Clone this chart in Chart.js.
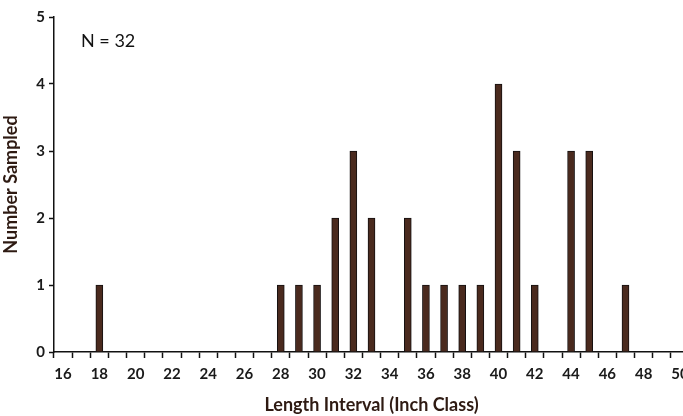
<!DOCTYPE html>
<html lang="en">
<head>
    <meta charset="UTF-8">
    <title>Length Frequency</title>
    <style>
        html, body {
            margin: 0;
            padding: 0;
            background: #fff;
            overflow: hidden;
        }
        .chart-container {
            position: relative;
            width: 700px;
            height: 416px;
        }
    </style>
</head>
<body>
    <div class="chart-container">
        <canvas id="lengthChart"></canvas>
    </div>

    <script src="https://cdn.jsdelivr.net/npm/chart.js"></script>
    <script>
        // inch classes 16..50
        const lengthClasses = [16, 17, 18, 19, 20, 21, 22, 23, 24, 25, 26, 27, 28, 29, 30, 31, 32, 33,
            34, 35, 36, 37, 38, 39, 40, 41, 42, 43, 44, 45, 46, 47, 48, 49, 50];
        const numberSampled = [0, 0, 1, 0, 0, 0, 0, 0, 0, 0, 0, 0, 1, 1, 1, 2, 3, 2,
            0, 2, 1, 1, 1, 1, 4, 3, 1, 0, 3, 3, 0, 1, 0, 0, 0];
        const yTicks = [0, 1, 2, 3, 4, 5];
        const sampleLabel = 'N = 32';

        const fontFamily = 'Lato, "Open Sans", sans-serif';

        const annotate = {
            id: 'annotate',
            afterDraw(chart) {
                const { ctx, chartArea } = chart;
                ctx.save();
                ctx.font = '18px ' + fontFamily;
                ctx.fillStyle = '#111';
                ctx.textBaseline = 'middle';
                ctx.fillText(sampleLabel, chartArea.left + 27, chartArea.top + 24);
                ctx.restore();
            }
        };

        function renderChart() {
            const ctx = document.getElementById('lengthChart').getContext('2d');
            new Chart(ctx, {
                type: 'bar',
                data: {
                    labels: lengthClasses.map(String),
                    datasets: [{
                        data: numberSampled,
                        backgroundColor: '#4a2a1e',
                        borderColor: '#141010',
                        borderWidth: 1,
                        barThickness: 7
                    }]
                },
                options: {
                    responsive: true,
                    maintainAspectRatio: false,
                    animation: false,
                    layout: { padding: { top: 17, right: 11, left: 0, bottom: 0 } },
                    plugins: {
                        legend: { display: false },
                        tooltip: { enabled: false }
                    },
                    scales: {
                        x: {
                            offset: true,
                            grid: {
                                offset: true,
                                drawOnChartArea: false,
                                tickLength: 6,
                                tickColor: '#111',
                                tickWidth: 1.5
                            },
                            border: { color: '#111', width: 1.5 },
                            ticks: {
                                autoSkip: false,
                                maxRotation: 0,
                                padding: 7,
                                color: '#1a1a1a',
                                font: { family: fontFamily, size: 15, weight: 'bold' },
                                callback: function (value, index) {
                                    const v = lengthClasses[index];
                                    return v % 2 === 0 ? String(v) : '';
                                }
                            },
                            title: {
                                display: true,
                                text: 'Length Interval (Inch Class)',
                                color: '#2e1a12',
                                font: { family: fontFamily, size: 18, weight: 'bold' },
                                padding: { top: 2, bottom: 0 }
                            },
                            afterFit: function (scale) { scale.height = 64; }
                        },
                        y: {
                            min: 0,
                            max: 5,
                            afterBuildTicks: function (scale) {
                                scale.ticks = yTicks.map(v => ({ value: v }));
                            },
                            grid: {
                                drawOnChartArea: false,
                                tickLength: 5,
                                tickColor: '#111',
                                tickWidth: 1.5
                            },
                            border: { color: '#111', width: 1.5 },
                            ticks: {
                                padding: 4,
                                color: '#1a1a1a',
                                font: { family: fontFamily, size: 15, weight: 'bold' }
                            },
                            title: {
                                display: true,
                                text: 'Number Sampled',
                                color: '#2e1a12',
                                font: { family: fontFamily, size: 18, weight: 'bold' },
                                padding: { top: 0, bottom: 2 }
                            },
                            afterFit: function (scale) { scale.width = 54; }
                        }
                    }
                },
                plugins: [annotate]
            });
        }

        document.addEventListener('DOMContentLoaded', renderChart);
    </script>
</body>
</html>
